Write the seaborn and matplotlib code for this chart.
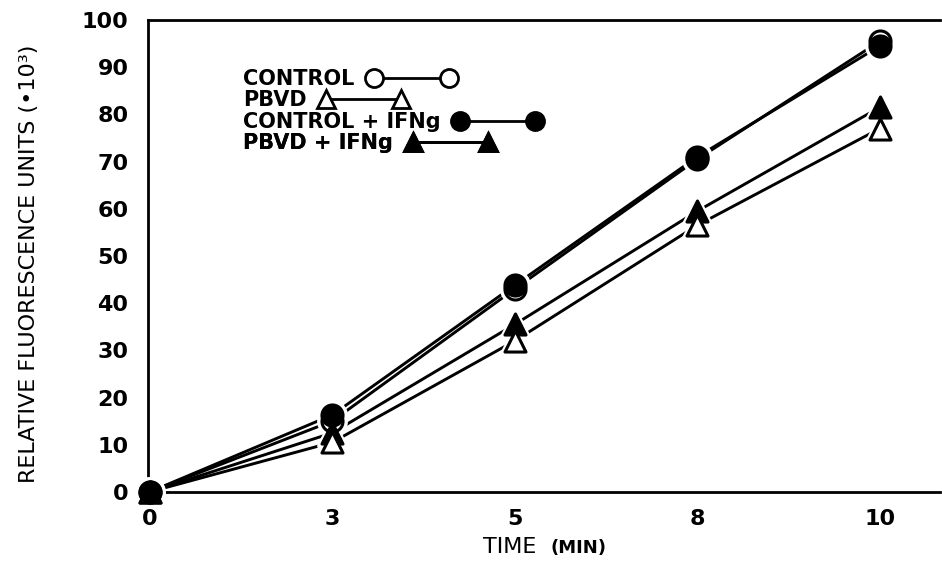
import pandas as pd
import matplotlib.pyplot as plt
import seaborn as sns
from matplotlib.lines import Line2D

# time points (min) and fluorescence readings (*10^3)
times = ['0', '3', '5', '8', '10']
control = [0, 15, 43, 70.5, 95.5]
pbvd = [0, 10.5, 32, 56.5, 77]
control_ifn = [0, 16.3, 43.8, 71, 94.5]
pbvd_ifn = [0, 12.5, 35.5, 59.5, 81.5]

series_names = ['CONTROL', 'PBVD', 'CONTROL + IFNg', 'PBVD + IFNg']
series_values = [control, pbvd, control_ifn, pbvd_ifn]

rows = []
for name, vals in zip(series_names, series_values):
    for t, v in zip(times, vals):
        rows.append({'time': t, 'value': v, 'group': name})
df = pd.DataFrame(rows)

sns.set_style('white')
plt.rcParams['font.family'] = ['DejaVu Sans']
plt.rcParams['text.color'] = 'black'
plt.rcParams['axes.labelcolor'] = 'black'

fig = plt.figure(figsize=(9.42, 5.70), dpi=100)
ax = fig.add_axes([0.157, 0.137, 0.841, 0.828])

# marker style per group: (marker, facecolor)
styles = {
    'CONTROL': ('o', 'white'),
    'PBVD': ('^', 'white'),
    'PBVD + IFNg': ('^', 'black'),
    'CONTROL + IFNg': ('o', 'black'),
}
draw_order = ['CONTROL', 'PBVD + IFNg', 'PBVD', 'CONTROL + IFNg']

# connecting lines
for name in draw_order:
    sub = df[df['group'] == name]
    sns.lineplot(data=sub, x='time', y='value', ax=ax, color='black',
                 linewidth=2.1, sort=False, legend=False)

# markers with a white halo so the lines stop short of them
for name in draw_order:
    sub = df[df['group'] == name]
    m, fc = styles[name]
    sns.scatterplot(data=sub, x='time', y='value', ax=ax, marker=m, s=330,
                    color='white', edgecolor='white', linewidth=4, legend=False,
                    zorder=3, clip_on=False)
    sns.scatterplot(data=sub, x='time', y='value', ax=ax, marker=m, s=230,
                    color=fc, edgecolor='black', linewidth=2.2, legend=False,
                    zorder=4, clip_on=False)

ax.set_xlim(-0.01, 4.33)
ax.set_ylim(0, 100)
ax.set_yticks(range(0, 101, 10))
ax.tick_params(axis='both', direction='inout', length=16, width=1.8,
               color='black', labelcolor='black')
ax.tick_params(axis='y', pad=6)
ax.tick_params(axis='x', pad=4.3)
for lab in ax.get_xticklabels() + ax.get_yticklabels():
    lab.set_fontsize(16)
    lab.set_fontweight('bold')
for s in ['left', 'bottom', 'top']:
    ax.spines[s].set_visible(True)
    ax.spines[s].set_linewidth(2)
    ax.spines[s].set_color('black')
ax.spines['right'].set_visible(False)

ax.set_xlabel('')
ax.set_ylabel('RELATIVE FLUORESCENCE UNITS (•10³)', fontsize=16)
ax.yaxis.set_label_coords(-0.138, 0.483)
fig.text(0.541, 0.030, 'TIME', fontsize=16, ha='center', va='baseline')
fig.text(0.614, 0.030, '(MIN)', fontsize=13, fontweight='bold', ha='center', va='baseline')

# legend: one box per row so each sample sits right after its text
legend_y = [0.875, 0.830, 0.784, 0.739]
for name, yy in zip(series_names, legend_y):
    m, fc = styles[name]
    h = Line2D([0], [0], color='black', linewidth=2, marker=m, markersize=13,
               markerfacecolor=fc, markeredgecolor='black', markeredgewidth=2)
    leg = ax.legend([h], [name], loc='center left', bbox_to_anchor=(0.12, yy),
                    frameon=False, markerfirst=False, numpoints=2,
                    prop={'size': 15, 'weight': 'bold'}, labelcolor='black',
                    handlelength=4.2, handletextpad=0.65, borderpad=0,
                    borderaxespad=0)
    ax.add_artist(leg)

fig.savefig('out.png', dpi=100)
